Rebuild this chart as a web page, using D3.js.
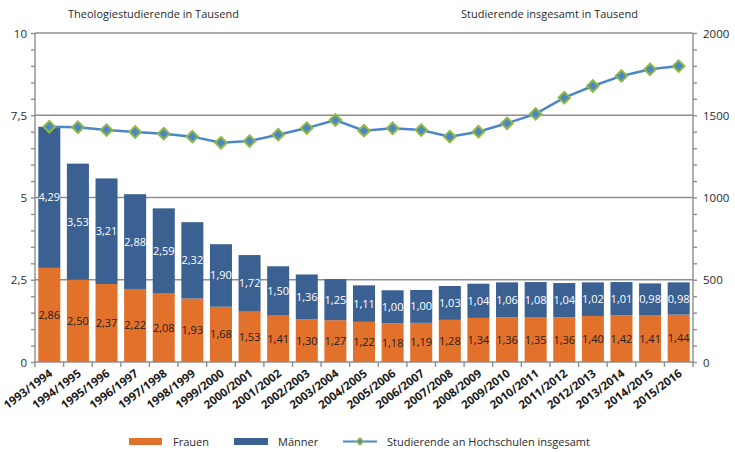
<!DOCTYPE html>
<html><head><meta charset="utf-8">
<script src="https://cdn.jsdelivr.net/npm/d3@7"></script>
<style>
body{margin:0;background:#fff;}
text{font-family:"Open Sans",sans-serif;}
</style></head>
<body><svg id="c" width="735" height="452"></svg>
<script>
const categories = ["1993/1994","1994/1995","1995/1996","1996/1997","1997/1998","1998/1999","1999/2000","2000/2001","2001/2002","2002/2003","2003/2004","2004/2005","2005/2006","2006/2007","2007/2008","2008/2009","2009/2010","2010/2011","2011/2012","2012/2013","2013/2014","2014/2015","2015/2016"];
const frauen = [2.86,2.50,2.37,2.22,2.08,1.93,1.68,1.53,1.41,1.30,1.27,1.22,1.18,1.19,1.28,1.34,1.36,1.35,1.36,1.40,1.42,1.41,1.44];
const maenner = [4.29,3.53,3.21,2.88,2.59,2.32,1.90,1.72,1.50,1.36,1.25,1.11,1.00,1.00,1.03,1.04,1.06,1.08,1.04,1.02,1.01,0.98,0.98];
const insgesamt = [1430,1427,1410,1398,1388,1370,1333,1343,1382,1422,1471,1406,1421,1410,1370,1400,1451,1508,1607,1678,1739,1779,1799];
const leftTicks = [0,2.5,5,7.5,10];
const rightTicks = [0,500,1000,1500,2000];
const fmt = v => d3.format(".2f")(v).replace(".", ",");
const fmtL = v => String(v).replace(".", ",");

const C = {orange:"#e2712b", blue:"#3b6192", line:"#4a86c8", green:"#8fb843", grid:"#8e8e8e", text:"#2a2a2a"};
const svg = d3.select("#c");
const L = 35, R = 693, T = 33, B = 362;
const x = d3.scaleBand().domain(categories).range([L, R]).paddingInner(0.23).paddingOuter(0.115);
const y = d3.scaleLinear().domain([0,10]).range([B, T]);
const y2 = d3.scaleLinear().domain([0,2000]).range([B, T]);

// grid lines
svg.append("g").selectAll("line").data(leftTicks.filter(d=>d>0)).join("line")
  .attr("x1", L).attr("x2", R).attr("y1", d=>y(d)).attr("y2", d=>y(d))
  .attr("stroke", C.grid).attr("stroke-width", 1.4);

// left axis
const gl = svg.append("g").attr("transform", `translate(${L},0)`)
  .call(d3.axisLeft(y).tickValues(d3.range(0,10.01,0.5)).tickSize(4).tickFormat(""));
gl.selectAll("path,line").attr("stroke", C.grid).attr("stroke-width", 1.4);
gl.select(".domain").attr("d", `M0,${T}V${B}`);
svg.append("g").selectAll("text").data(leftTicks).join("text")
  .attr("x", 27).attr("y", d=>y(d)+4.5).attr("text-anchor","end")
  .attr("font-size", 11.5).attr("fill", C.text).text(fmtL);

// right axis
const gr = svg.append("g").attr("transform", `translate(${R},0)`)
  .call(d3.axisRight(y2).tickValues(d3.range(0,2001,100)).tickSize(4).tickFormat(""));
gr.selectAll("path,line").attr("stroke", C.grid).attr("stroke-width", 1.4);
gr.select(".domain").attr("d", `M0,${T}V${B}`);
svg.append("g").selectAll("text").data(rightTicks).join("text")
  .attr("x", 703).attr("y", d=>y2(d)+4.5).attr("text-anchor","start")
  .attr("font-size", 11.5).attr("fill", C.text).text(d=>d);

// bars
const bars = svg.append("g");
bars.selectAll("rect.f").data(categories).join("rect").attr("class","f")
  .attr("x", d=>x(d)).attr("width", x.bandwidth())
  .attr("y", (d,i)=>y(frauen[i])).attr("height", (d,i)=>y(0)-y(frauen[i]))
  .attr("fill", C.orange);
bars.selectAll("rect.m").data(categories).join("rect").attr("class","m")
  .attr("x", d=>x(d)).attr("width", x.bandwidth())
  .attr("y", (d,i)=>y(frauen[i]+maenner[i])).attr("height", (d,i)=>y(frauen[i])-y(frauen[i]+maenner[i]))
  .attr("fill", C.blue);

// bar labels
bars.selectAll("text.f").data(categories).join("text").attr("class","f")
  .attr("x", d=>x(d)+x.bandwidth()/2).attr("y", (d,i)=>y(frauen[i]/2)+4)
  .attr("text-anchor","middle").attr("font-size", 11).attr("fill", "#1e1e1e")
  .text((d,i)=>fmt(frauen[i]));
bars.selectAll("text.m").data(categories).join("text").attr("class","m")
  .attr("x", d=>x(d)+x.bandwidth()/2).attr("y", (d,i)=>y(frauen[i]+maenner[i]/2)+4)
  .attr("text-anchor","middle").attr("font-size", 11).attr("fill", "#fff")
  .text((d,i)=>fmt(maenner[i]));

// x axis
const gx = svg.append("g").attr("transform", `translate(0,${B})`);
gx.append("line").attr("x1", L).attr("x2", R).attr("stroke", C.grid).attr("stroke-width", 1.4);
const step = x.step();
gx.selectAll("line.t").data(d3.range(categories.length+1)).join("line").attr("class","t")
  .attr("x1", i=>L+i*step).attr("x2", i=>L+i*step).attr("y1",0).attr("y2",5)
  .attr("stroke", C.grid).attr("stroke-width", 1.4);
gx.selectAll("text").data(categories).join("text")
  .attr("transform", d=>`translate(${x(d)+x.bandwidth()/2+4},${13}) rotate(-37)`)
  .attr("text-anchor","end").attr("font-family","Liberation Sans, Arial, sans-serif")
  .attr("font-weight","bold").attr("font-size", 11.5).attr("fill","#1a1a1a").text(d=>d);

// line
const cx = (d)=>x(d)+x.bandwidth()/2;
svg.append("path").datum(categories)
  .attr("d", d3.line().x(d=>cx(d)).y((d,i)=>y2(insgesamt[i])))
  .attr("fill","none").attr("stroke", C.line).attr("stroke-width", 2.5);
const diamond = d3.symbol().type(d3.symbolSquare).size(66);
svg.append("g").selectAll("path").data(categories).join("path")
  .attr("d", diamond)
  .attr("transform", (d,i)=>`translate(${cx(d)},${y2(insgesamt[i])}) rotate(45)`)
  .attr("fill", C.line).attr("stroke", C.green).attr("stroke-width", 2);

// titles
svg.append("text").attr("x", 68).attr("y", 18).attr("font-size", 11).attr("fill", C.text)
  .text("Theologiestudierende in Tausend");
svg.append("text").attr("x", 461).attr("y", 18).attr("font-size", 11).attr("fill", C.text)
  .text("Studierende insgesamt in Tausend");

// legend
const lg = svg.append("g");
lg.append("rect").attr("x",129).attr("y",438).attr("width",33).attr("height",7).attr("fill",C.orange);
lg.append("text").attr("x",173).attr("y",446).attr("font-size",11).attr("fill",C.text).text("Frauen");
lg.append("rect").attr("x",234).attr("y",438).attr("width",34).attr("height",7).attr("fill",C.blue);
lg.append("text").attr("x",278).attr("y",446).attr("font-size",11).attr("fill",C.text).text("Männer");
lg.append("line").attr("x1",343).attr("x2",377).attr("y1",441.5).attr("y2",441.5).attr("stroke",C.line).attr("stroke-width",2);
lg.append("path").attr("d", d3.symbol().type(d3.symbolSquare).size(22))
  .attr("transform","translate(360,441.5) rotate(45)").attr("fill",C.line).attr("stroke",C.green).attr("stroke-width",1.5);
lg.append("text").attr("x",387).attr("y",446).attr("font-size",11).attr("fill",C.text).text("Studierende an Hochschulen insgesamt");
</script></body></html>
